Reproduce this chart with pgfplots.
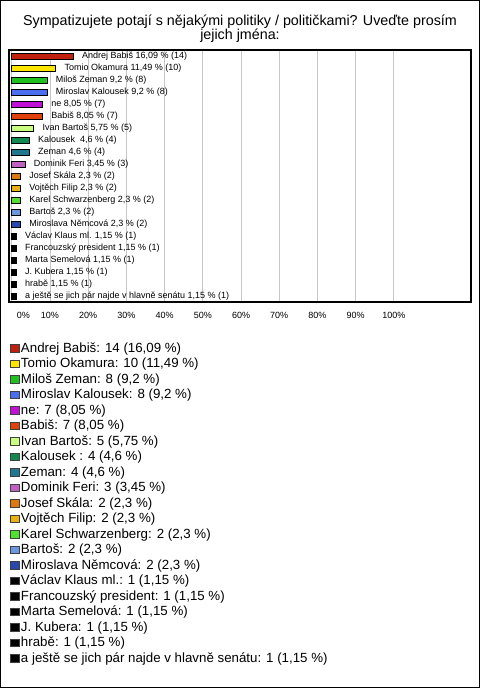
\documentclass[border=0pt]{standalone}
\usepackage{fontspec}
\setmainfont{Liberation Sans}
\usepackage{pgfplots}
\pgfplotsset{compat=1.18}
\definecolor{c1}{HTML}{C0200E}
\definecolor{c2}{HTML}{FFE600}
\definecolor{c3}{HTML}{20C020}
\definecolor{c4}{HTML}{4A6EF0}
\definecolor{c5}{HTML}{C010D8}
\definecolor{c6}{HTML}{E0400A}
\definecolor{c7}{HTML}{C8FF80}
\definecolor{c8}{HTML}{108850}
\definecolor{c9}{HTML}{207890}
\definecolor{c10}{HTML}{C060C0}
\definecolor{c11}{HTML}{E07810}
\definecolor{c12}{HTML}{E8B010}
\definecolor{c13}{HTML}{50E030}
\definecolor{c14}{HTML}{6A98E0}
\definecolor{c15}{HTML}{2848B0}
\definecolor{c16}{HTML}{000000}
\begin{document}
\begin{tikzpicture}
\useasboundingbox (0bp,0bp) rectangle (480bp,688bp);
\fill[white] (0bp,0bp) rectangle (480bp,688bp);
\draw[line width=1.2bp] (0.6bp,0.6bp) rectangle (479.4bp,687.4bp);
\node[anchor=base, inner sep=0pt, font=\fontsize{14.3bp}{14bp}\selectfont] at (240bp,662bp) {Sympatizujete potají s nějakými politiky / političkami? Uveďte prosím};
\node[anchor=base, inner sep=0pt, font=\fontsize{14.3bp}{14bp}\selectfont] at (240bp,648bp) {jejich jména:};
\begin{axis}[
  at={(9bp,638bp)}, anchor=north west,
  scale only axis, width=462bp, height=252bp,
  xbar, bar width=6.2bp, bar shift=0pt,
  xmin=-0.73, xmax=120.2,
  ymin=-0.54, ymax=20.5, y dir=reverse,
  ytick=\empty,
  xtick={0,10,...,100},
  xticklabels={\hspace*{23bp}0\%,10\%,20\%,30\%,40\%,50\%,60\%,70\%,80\%,90\%,100\%},
  xmajorgrids, major grid style={draw=black!22, line width=0.8bp},
  major tick length=0pt,
  axis line style={line width=1.2bp},
  xticklabel style={font=\fontsize{9bp}{10bp}\selectfont, inner sep=0pt, yshift=-10.5bp},
  point meta=explicit symbolic,
  nodes near coords,
  every node near coord/.append style={anchor=west, font=\fontsize{9bp}{10bp}\selectfont, inner sep=0pt, xshift=8.5bp, text=black},
  legend cell align=left,
  legend style={at={(axis description cs:0,0)}, anchor=north west, xshift=1bp, yshift=-39bp,
    draw=none, fill=none, inner sep=0pt, outer sep=0pt, row sep=0pt, column sep=0pt,
    font=\fontsize{13.3bp}{15bp}\selectfont,
    nodes={inner sep=0pt, text height=11bp, text depth=4.5bp}},
  legend image code/.code={\path[draw=none,fill=none] (0bp,-7.75bp) rectangle (11bp,7.75bp);\draw[#1,draw=black!75,line width=0.6bp] (0.8bp,-3.4bp) rectangle (8.8bp,4.1bp);},
]
\addplot[fill=c1, draw=black, line width=0.7bp] coordinates {(16.09,0) [Andrej Babiš 16,09 \% (14)]};
\addlegendentry{Andrej Babiš: 14 (16,09 \%)}
\addplot[fill=c2, draw=black, line width=0.7bp] coordinates {(11.49,1) [Tomio Okamura 11,49 \% (10)]};
\addlegendentry{Tomio Okamura: 10 (11,49 \%)}
\addplot[fill=c3, draw=black, line width=0.7bp] coordinates {(9.2,2) [Miloš Zeman 9,2 \% (8)]};
\addlegendentry{Miloš Zeman: 8 (9,2 \%)}
\addplot[fill=c4, draw=black, line width=0.7bp] coordinates {(9.2,3) [Miroslav Kalousek 9,2 \% (8)]};
\addlegendentry{Miroslav Kalousek: 8 (9,2 \%)}
\addplot[fill=c5, draw=black, line width=0.7bp] coordinates {(8.05,4) [ne 8,05 \% (7)]};
\addlegendentry{ne: 7 (8,05 \%)}
\addplot[fill=c6, draw=black, line width=0.7bp] coordinates {(8.05,5) [Babiš 8,05 \% (7)]};
\addlegendentry{Babiš: 7 (8,05 \%)}
\addplot[fill=c7, draw=black, line width=0.7bp] coordinates {(5.75,6) [Ivan Bartoš 5,75 \% (5)]};
\addlegendentry{Ivan Bartoš: 5 (5,75 \%)}
\addplot[fill=c8, draw=black, line width=0.7bp] coordinates {(4.6,7) [Kalousek \ 4,6 \% (4)]};
\addlegendentry{Kalousek : 4 (4,6 \%)}
\addplot[fill=c9, draw=black, line width=0.7bp] coordinates {(4.6,8) [Zeman 4,6 \% (4)]};
\addlegendentry{Zeman: 4 (4,6 \%)}
\addplot[fill=c10, draw=black, line width=0.7bp] coordinates {(3.45,9) [Dominik Feri 3,45 \% (3)]};
\addlegendentry{Dominik Feri: 3 (3,45 \%)}
\addplot[fill=c11, draw=black, line width=0.7bp] coordinates {(2.3,10) [Josef Skála 2,3 \% (2)]};
\addlegendentry{Josef Skála: 2 (2,3 \%)}
\addplot[fill=c12, draw=black, line width=0.7bp] coordinates {(2.3,11) [Vojtěch Filip 2,3 \% (2)]};
\addlegendentry{Vojtěch Filip: 2 (2,3 \%)}
\addplot[fill=c13, draw=black, line width=0.7bp] coordinates {(2.3,12) [Karel Schwarzenberg 2,3 \% (2)]};
\addlegendentry{Karel Schwarzenberg: 2 (2,3 \%)}
\addplot[fill=c14, draw=black, line width=0.7bp] coordinates {(2.3,13) [Bartoš 2,3 \% (2)]};
\addlegendentry{Bartoš: 2 (2,3 \%)}
\addplot[fill=c15, draw=black, line width=0.7bp] coordinates {(2.3,14) [Miroslava Němcová 2,3 \% (2)]};
\addlegendentry{Miroslava Němcová: 2 (2,3 \%)}
\addplot[fill=c16, draw=black, line width=0.7bp] coordinates {(1.15,15) [Václav Klaus ml. 1,15 \% (1)]};
\addlegendentry{Václav Klaus ml.: 1 (1,15 \%)}
\addplot[fill=c16, draw=black, line width=0.7bp] coordinates {(1.15,16) [Francouzský president 1,15 \% (1)]};
\addlegendentry{Francouzský president: 1 (1,15 \%)}
\addplot[fill=c16, draw=black, line width=0.7bp] coordinates {(1.15,17) [Marta Semelová 1,15 \% (1)]};
\addlegendentry{Marta Semelová: 1 (1,15 \%)}
\addplot[fill=c16, draw=black, line width=0.7bp] coordinates {(1.15,18) [J. Kubera 1,15 \% (1)]};
\addlegendentry{J. Kubera: 1 (1,15 \%)}
\addplot[fill=c16, draw=black, line width=0.7bp] coordinates {(1.15,19) [hrabě 1,15 \% (1)]};
\addlegendentry{hrabě: 1 (1,15 \%)}
\addplot[fill=c16, draw=black, line width=0.7bp] coordinates {(1.15,20) [a ještě se jich pár najde v hlavně senátu 1,15 \% (1)]};
\addlegendentry{a ještě se jich pár najde v hlavně senátu: 1 (1,15 \%)}
\end{axis}
\end{tikzpicture}
\end{document}
